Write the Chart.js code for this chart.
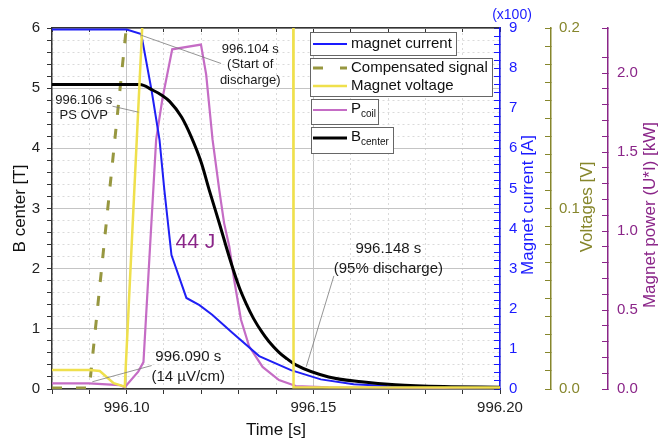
<!DOCTYPE html>
<html>
<head>
<meta charset="utf-8">
<script src="https://cdn.jsdelivr.net/npm/chart.js@4.4.0/dist/chart.umd.min.js"></script>
<style>
  html, body { margin: 0; padding: 0; background: #fff; }
  #wrap { width: 660px; height: 443px; }
</style>
</head>
<body>
<div id="wrap"><canvas id="chart" width="660" height="443"></canvas></div>
<script>
// magnet current, in units of 100 A
const currentTime = [996.080, 996.100, 996.1039, 996.1067, 996.1088, 996.1101, 996.1120, 996.1160, 996.1195, 996.1229, 996.1283, 996.1355, 996.1440, 996.1520, 996.1608, 996.1697, 996.1850, 996.2000]
const currentVal = [8.96, 8.96, 8.85, 7.43, 6.21, 4.96, 3.34, 2.27, 2.09, 1.85, 1.40, 0.82, 0.47, 0.24, 0.12, 0.075, 0.05, 0.04]

// compensated signal, V
const compTime = [996.080, 996.0900, 996.0999]
const compVal = [0.0005, 0.0005, 0.2]

// magnet voltage, V (goes off scale during the discharge)
const voltTime = [996.080, 996.0900, 996.0928, 996.0965, 996.0995, 996.1065, 996.1446, 996.1447, 996.2000]
const voltVal = [0.0105, 0.0105, 0.0100, 0.0032, 0.0013, 0.3, 0.3, 0.0010, 0.0008]

// P coil, kW
const powerTime = [996.080, 996.0899, 996.0981, 996.0995, 996.1031, 996.1045, 996.1079, 996.1096, 996.1122, 996.1199, 996.1213, 996.1230, 996.1248, 996.1261, 996.1275, 996.1288, 996.1306, 996.1328, 996.1364, 996.1408, 996.1453, 996.1541, 996.2000]
const powerVal = [0.036, 0.036, 0.025, 0.011, 0.11, 0.17, 1.58, 1.84, 2.15, 2.18, 1.99, 1.58, 1.26, 1.05, 0.90, 0.69, 0.44, 0.27, 0.14, 0.057, 0.019, 0.011, 0.006]

// B center, T
const bTime = [996.080, 996.1035, 996.1069, 996.1095, 996.1115, 996.1147, 996.1173, 996.1200, 996.1221, 996.1248, 996.1275, 996.1301, 996.1320, 996.1340, 996.1363, 996.1381, 996.1408, 996.1430, 996.1453, 996.1541, 996.1629, 996.1720, 996.1850, 996.2000]
const bVal = [5.06, 5.06, 4.97, 4.88, 4.78, 4.52, 4.19, 3.76, 3.31, 2.76, 2.19, 1.70, 1.42, 1.17, 0.94, 0.79, 0.61, 0.50, 0.40, 0.20, 0.12, 0.07, 0.04, 0.03]

const xMin = 996.08
const xMax = 996.20

// notes: [time, B center value] anchors for text and leader lines
const notes = [
  { lines: ['996.104 s', '(Start of', 'discharge)'], at: [996.1331, 5.65], step: 0.26, size: 13, from: [996.1039, 5.88], to: [996.1253, 5.41] },
  { lines: ['996.106 s', 'PS OVP'], at: [996.0885, 4.80], step: 0.25, size: 13, from: [996.0962, 4.70], to: [996.1032, 4.60] },
  { lines: ['996.090 s', '(14 \u00b5V/cm)'], at: [996.1165, 0.53], step: 0.32, size: 15, from: [996.0908, 0.12], to: [996.1067, 0.39] },
  { lines: ['996.148 s', '(95% discharge)'], at: [996.1701, 2.33], step: 0.33, size: 15, from: [996.1481, 0.37], to: [996.1555, 1.88] }
]
const energyLabel = { text: '44 J', at: [996.1184, 2.44] }

const FONT = "'Liberation Sans', Arial, sans-serif"
const BLUE = '#1a1aff'
const OLIVE = '#86862c'
const PURPLE = '#8a2588'

Chart.defaults.font.family = FONT

function pts(ts, vs) {
  return ts.map((t, i) => ({ x: t, y: vs[i] }))
}

function isStep(v, step) {
  const r = v / step
  return Math.abs(r - Math.round(r)) < 1e-4
}

function vText(ctx, text, x, y, color, size) {
  ctx.save()
  ctx.translate(x, y)
  ctx.rotate(-Math.PI / 2)
  ctx.fillStyle = color
  ctx.font = size + 'px ' + FONT
  ctx.textAlign = 'center'
  ctx.textBaseline = 'middle'
  ctx.fillText(text, 0, 0)
  ctx.restore()
}

function box(ctx, l, t, w, h) {
  ctx.fillStyle = '#fff'
  ctx.fillRect(l, t, w, h)
  ctx.strokeStyle = '#666'
  ctx.lineWidth = 1
  ctx.strokeRect(l + 0.5, t + 0.5, w, h)
}

function sample(ctx, y, color, width, dash) {
  ctx.save()
  ctx.strokeStyle = color
  ctx.lineWidth = width
  ctx.setLineDash(dash || [])
  ctx.beginPath()
  ctx.moveTo(313, y)
  ctx.lineTo(347, y)
  ctx.stroke()
  ctx.restore()
}

function label(ctx, main, sub, y) {
  ctx.fillStyle = '#111'
  ctx.textAlign = 'left'
  ctx.textBaseline = 'middle'
  ctx.font = '15px ' + FONT
  ctx.fillText(main, 351, y)
  if (sub) {
    const w = ctx.measureText(main).width
    ctx.font = '10px ' + FONT
    ctx.fillText(sub, 351 + w, y + 5)
  }
}

const overlay = {
  id: 'overlay',
  afterDraw(chart) {
    const ctx = chart.ctx
    const sx = chart.scales.x
    const sy = chart.scales.y
    const px = t => sx.getPixelForValue(t)
    const py = v => sy.getPixelForValue(v)

    // notes with leader lines
    notes.forEach(n => {
      ctx.save()
      ctx.strokeStyle = '#7a7a7a'
      ctx.lineWidth = 0.8
      ctx.beginPath()
      ctx.moveTo(px(n.from[0]), py(n.from[1]))
      ctx.lineTo(px(n.to[0]), py(n.to[1]))
      ctx.stroke()
      ctx.fillStyle = '#1a1a1a'
      ctx.font = n.size + 'px ' + FONT
      ctx.textAlign = 'center'
      ctx.textBaseline = 'middle'
      n.lines.forEach((s, i) => ctx.fillText(s, px(n.at[0]), py(n.at[1] - i * n.step)))
      ctx.restore()
    })

    ctx.save()
    ctx.fillStyle = PURPLE
    ctx.font = '21px ' + FONT
    ctx.textAlign = 'center'
    ctx.textBaseline = 'middle'
    ctx.fillText(energyLabel.text, px(energyLabel.at[0]), py(energyLabel.at[1]))
    ctx.restore()

    // legend
    ctx.save()
    box(ctx, 310, 32, 146, 23)
    sample(ctx, 44, BLUE, 2)
    label(ctx, 'magnet current', null, 44)
    box(ctx, 310, 58, 182, 38)
    sample(ctx, 68, '#979740', 3, [10, 17])
    label(ctx, 'Compensated signal', null, 68)
    sample(ctx, 86, '#efe04c', 2.5)
    label(ctx, 'Magnet voltage', null, 86)
    box(ctx, 311, 99, 67, 25)
    sample(ctx, 110, '#c56cc5', 2)
    label(ctx, 'P', 'coil', 109)
    box(ctx, 311, 127, 82, 26)
    sample(ctx, 138, '#000', 3)
    label(ctx, 'B', 'center', 137)
    ctx.restore()

    // right axis titles
    const yI = chart.scales.yI
    const yV = chart.scales.yV
    const yP = chart.scales.yP
    vText(ctx, 'Magnet current [A]', yI.left + 28, 205, BLUE, 17)
    vText(ctx, 'Voltages [V]', yV.left + 36, 207, OLIVE, 17)
    vText(ctx, 'Magnet power (U*I) [kW]', yP.left + 42, 215, PURPLE, 17)

    ctx.save()
    ctx.fillStyle = BLUE
    ctx.font = '14px ' + FONT
    ctx.textAlign = 'center'
    ctx.textBaseline = 'middle'
    ctx.fillText('(x100)', yI.left + 12, 15)
    ctx.restore()
  }
}

function rightAxis(color, max, step, labelStep, digits, width, weight, pad) {
  return {
    type: 'linear',
    position: 'right',
    weight: weight,
    min: 0,
    max: max,
    afterFit: s => { s.width = width },
    ticks: {
      stepSize: step,
      autoSkip: false,
      color: color,
      padding: pad,
      font: { size: 15 },
      callback: v => isStep(v, labelStep) ? v.toFixed(digits) : ''
    },
    grid: { drawOnChartArea: false, tickLength: -6, tickColor: color, tickWidth: 1 },
    border: { color: color, width: 1.5 }
  }
}

new Chart(document.getElementById('chart'), {
  type: 'line',
  data: {
    datasets: [
      { label: 'Magnet voltage', data: pts(voltTime, voltVal), yAxisID: 'yV', borderColor: '#efe04c', borderWidth: 2.5, order: 0 },
      { label: 'Bcenter', data: pts(bTime, bVal), yAxisID: 'y', borderColor: '#000', borderWidth: 3, order: 1, cubicInterpolationMode: 'monotone' },
      { label: 'magnet current', data: pts(currentTime, currentVal), yAxisID: 'yI', borderColor: '#1f1ff5', borderWidth: 2, order: 2 },
      { label: 'Pcoil', data: pts(powerTime, powerVal), yAxisID: 'yP', borderColor: '#c56cc5', borderWidth: 2.2, order: 3 },
      { label: 'Compensated signal', data: pts(compTime, compVal), yAxisID: 'yV', borderColor: '#979740', borderWidth: 3, borderDash: [10, 14], order: 4 }
    ]
  },
  options: {
    responsive: false,
    devicePixelRatio: 1,
    animation: false,
    layout: { padding: { top: 28, left: 0, right: 0, bottom: 0 } },
    elements: { point: { radius: 0 }, line: { tension: 0 } },
    plugins: { legend: { display: false }, tooltip: { enabled: false } },
    scales: {
      x: {
        type: 'linear',
        position: 'bottom',
        min: xMin,
        max: xMax,
        afterFit: s => { s.height = 54 },
        ticks: {
          stepSize: 0.01,
          autoSkip: false,
          maxRotation: 0,
          color: '#222',
          padding: 5,
          font: { size: 15 },
          callback: v => isStep(v, 0.05) ? v.toFixed(2) : ''
        },
        grid: {
          color: c => c.tick && isStep(c.tick.value, 0.05) ? '#c4c4c4' : '#dadada',
          tickLength: 5,
          tickColor: '#333'
        },
        border: { color: '#333', width: 1.5, dash: c => c.tick && !isStep(c.tick.value, 0.05) ? [2, 3] : [] },
        title: { display: true, text: 'Time [s]', color: '#111', font: { size: 17 }, padding: { top: 0, bottom: 2 } }
      },
      xTop: {
        type: 'linear',
        position: 'top',
        min: xMin,
        max: xMax,
        afterFit: s => { s.height = 0 },
        ticks: { display: false, stepSize: 0.01, autoSkip: false },
        grid: { drawOnChartArea: false, tickLength: -4, tickColor: '#333' },
        border: { color: '#333', width: 1.5 }
      },
      y: {
        type: 'linear',
        position: 'left',
        min: 0,
        max: 6,
        afterFit: s => { s.width = 52 },
        ticks: {
          stepSize: 0.2,
          autoSkip: false,
          color: '#222',
          padding: 7,
          font: { size: 15 },
          callback: v => isStep(v, 1) ? String(Math.round(v)) : ''
        },
        grid: {
          color: c => c.tick && isStep(c.tick.value, 1) ? '#c4c4c4' : '#dadada',
          tickLength: 5,
          tickColor: '#333'
        },
        border: { color: '#333', width: 1.5, dash: c => c.tick && !isStep(c.tick.value, 1) ? [2, 3] : [] },
        title: { display: true, text: 'B center [T]', color: '#111', font: { size: 17 }, padding: { top: 10, bottom: 0 } }
      },
      yI: rightAxis(BLUE, 9, 0.2, 1, 0, 51, 0, 15),
      yV: rightAxis(OLIVE, 0.2, 0.01, 0.1, 1, 57, 1, 14),
      yP: rightAxis(PURPLE, 2.285, 0.1, 0.5, 1, 52, 2, 15)
    }
  },
  plugins: [overlay]
})
</script>
</body>
</html>
